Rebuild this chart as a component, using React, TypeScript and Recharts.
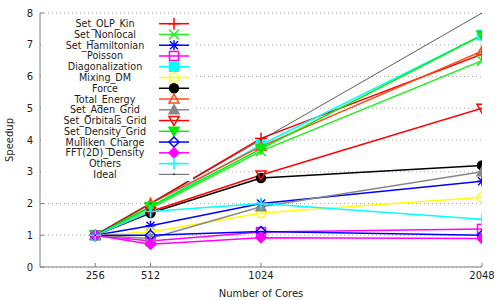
import { LineChart, Line, XAxis, YAxis, CartesianGrid, Legend, Label } from "recharts";

const cores = [256, 512, 1024, 2048];
const speedupTicks = [0, 1, 2, 3, 4, 5, 6, 7, 8];

const setOlpKin = [1, 2.0, 4.05, 6.7];
const setNonlocal = [1, 1.85, 3.65, 6.5];
const setHamiltonian = [1, 1.3, 2.0, 2.7];
const poisson = [1, 0.82, 1.1, 1.2];
const diagonalization = [1, 1.9, 3.85, 7.3];
const mixingDm = [1, 1.1, 1.7, 2.2];
const force = [1, 1.7, 2.8, 3.2];
const totalEnergy = [1, 2.0, 3.8, 6.8];
const setAdenGrid = [1, 0.9, 1.9, 3.0];
const setOrbitalsGrid = [1, 1.75, 2.9, 5.0];
const setDensityGrid = [1, 1.9, 3.72, 7.3];
const mullikenCharge = [1, 1.0, 1.12, 1.0];
const fftDensity = [1, 0.72, 0.92, 0.9];
const others = [1, 1.75, 2.0, 1.5];
const ideal = [1, 2, 4, 8];

type Shape =
  | "plus" | "cross" | "star" | "square" | "squareFill" | "circle" | "circleFill"
  | "tri" | "triFill" | "invTri" | "invTriFill" | "diamond" | "diamondFill" | "dot";

const SERIES: { key: string; values: number[]; color: string; shape: Shape; width: number }[] = [
  { key: "Set_OLP_Kin", values: setOlpKin, color: "#ff0000", shape: "plus", width: 1.5 },
  { key: "Set_Nonlocal", values: setNonlocal, color: "#22ee22", shape: "cross", width: 1.5 },
  { key: "Set_Hamiltonian", values: setHamiltonian, color: "#0000ff", shape: "star", width: 1.5 },
  { key: "Poisson", values: poisson, color: "#ff00ff", shape: "square", width: 1.5 },
  { key: "Diagonalization", values: diagonalization, color: "#00ffff", shape: "squareFill", width: 1.5 },
  { key: "Mixing_DM", values: mixingDm, color: "#ffff00", shape: "circle", width: 1.5 },
  { key: "Force", values: force, color: "#000000", shape: "circleFill", width: 1.5 },
  { key: "Total_Energy", values: totalEnergy, color: "#ff4a1a", shape: "tri", width: 1.5 },
  { key: "Set_Aden_Grid", values: setAdenGrid, color: "#888888", shape: "triFill", width: 1.5 },
  { key: "Set_Orbitals_Grid", values: setOrbitalsGrid, color: "#ff0000", shape: "invTri", width: 1.5 },
  { key: "Set_Density_Grid", values: setDensityGrid, color: "#00ee00", shape: "invTriFill", width: 1.5 },
  { key: "Mulliken_Charge", values: mullikenCharge, color: "#0000ff", shape: "diamond", width: 1.5 },
  { key: "FFT(2D)_Density", values: fftDensity, color: "#ff00ff", shape: "diamondFill", width: 1.5 },
  { key: "Others", values: others, color: "#00ffff", shape: "plus", width: 1.5 },
  { key: "Ideal", values: ideal, color: "#333333", shape: "dot", width: 0.8 },
];

const data = cores.map((c, i) => {
  const row: Record<string, number> = { cores: c };
  SERIES.forEach((s) => (row[s.key] = s.values[i]));
  return row;
});

const FONT = "DejaVu Sans, sans-serif";
const TEXT = "#222";
const AXIS = "#808080";

function Marker({ shape, color, cx, cy }: { shape: Shape; color: string; cx: number; cy: number }) {
  const sw = 1.5;
  const r = 4.5;
  switch (shape) {
    case "plus":
      return (
        <g stroke={color} strokeWidth={sw}>
          <line x1={cx - 6} y1={cy} x2={cx + 6} y2={cy} />
          <line x1={cx} y1={cy - 6} x2={cx} y2={cy + 6} />
        </g>
      );
    case "cross":
      return (
        <g stroke={color} strokeWidth={sw}>
          <line x1={cx - 5} y1={cy - 5} x2={cx + 5} y2={cy + 5} />
          <line x1={cx - 5} y1={cy + 5} x2={cx + 5} y2={cy - 5} />
        </g>
      );
    case "star":
      return (
        <g stroke={color} strokeWidth={sw}>
          <line x1={cx - 5} y1={cy} x2={cx + 5} y2={cy} />
          <line x1={cx} y1={cy - 5} x2={cx} y2={cy + 5} />
          <line x1={cx - 4} y1={cy - 4} x2={cx + 4} y2={cy + 4} />
          <line x1={cx - 4} y1={cy + 4} x2={cx + 4} y2={cy - 4} />
        </g>
      );
    case "square":
    case "squareFill":
      return (
        <rect x={cx - r} y={cy - r} width={2 * r} height={2 * r}
          fill={shape === "squareFill" ? color : "none"} stroke={color} strokeWidth={sw} />
      );
    case "circle":
    case "circleFill":
      return <circle cx={cx} cy={cy} r={r} fill={shape === "circleFill" ? color : "none"} stroke={color} strokeWidth={sw} />;
    case "tri":
    case "triFill":
      return (
        <polygon points={`${cx},${cy - 5} ${cx - 5},${cy + 4} ${cx + 5},${cy + 4}`}
          fill={shape === "triFill" ? color : "none"} stroke={color} strokeWidth={sw} />
      );
    case "invTri":
    case "invTriFill":
      return (
        <polygon points={`${cx},${cy + 5} ${cx - 5},${cy - 4} ${cx + 5},${cy - 4}`}
          fill={shape === "invTriFill" ? color : "none"} stroke={color} strokeWidth={sw} />
      );
    case "diamond":
    case "diamondFill":
      return (
        <polygon points={`${cx},${cy - 5} ${cx + 5},${cy} ${cx},${cy + 5} ${cx - 5},${cy}`}
          fill={shape === "diamondFill" ? color : "none"} stroke={color} strokeWidth={sw} />
      );
    default:
      return <circle cx={cx} cy={cy} r={1} fill={color} />;
  }
}

// gnuplot-style key: labels, sample line + point to the right, opaque box
function KeyBox() {
  const rowH = 10.76;
  return (
    <div style={{ background: "#fff", width: 152, height: 167 }}>
      <svg width={152} height={167}>
        {SERIES.map((s, i) => {
          const y = 9.7 + i * rowH;
          return (
            <g key={s.key}>
              <text x={64} y={y} textAnchor="middle" dominantBaseline="central"
                fontSize={9.6} fontFamily={FONT} fill={TEXT}>{s.key}</text>
              <line x1={118} y1={y} x2={148} y2={y} stroke={s.color} strokeWidth={s.width} />
              <Marker shape={s.shape} color={s.color} cx={133} cy={y} />
            </g>
          );
        })}
      </svg>
    </div>
  );
}

export default function App() {
  return (
    <div style={{ position: "absolute", left: 0, top: 0, fontFamily: FONT }}>
      <LineChart width={500} height={300} data={data}
        margin={{ top: 13, right: 18, left: 0, bottom: 0 }}>
        <CartesianGrid horizontal vertical={false} stroke="#aaaaaa" strokeDasharray="1 3" />
        <XAxis dataKey="cores" type="number" domain={[0, 2048]} ticks={cores}
          allowDataOverflow height={33} stroke={AXIS} tickSize={-4} tickMargin={9}
          tick={{ fontSize: 10, fill: TEXT, fontFamily: FONT }}>
          <Label value="Number of Cores" position="insideBottom" offset={3}
            style={{ fontSize: 10, fill: TEXT, fontFamily: FONT }} />
        </XAxis>
        <XAxis xAxisId="top" orientation="top" type="number" domain={[0, 2048]} ticks={cores}
          allowDataOverflow height={0} stroke={AXIS} tickSize={-4} tick={false} />
        <YAxis type="number" domain={[0, 8]} ticks={speedupTicks} allowDataOverflow
          width={40} stroke={AXIS} tickSize={-4} tickMargin={11}
          tick={{ fontSize: 10, fill: TEXT, fontFamily: FONT }}>
          <Label value="Speedup" angle={-90} position="insideLeft" offset={9}
            style={{ fontSize: 10, fill: TEXT, fontFamily: FONT, textAnchor: "middle" }} />
        </YAxis>
        <YAxis yAxisId="right" orientation="right" type="number" domain={[0, 8]} ticks={speedupTicks}
          allowDataOverflow width={0} stroke={AXIS} tickSize={-4} tick={false} />
        <Legend layout="vertical" align="center" verticalAlign="middle"
          content={KeyBox}
          wrapperStyle={{ left: 41, top: 14, width: 152, height: 167 }} />
        {SERIES.map((s) => (
          <Line key={s.key} dataKey={s.key} name={s.key} stroke={s.color} strokeWidth={s.width}
            isAnimationActive={false} activeDot={false}
            dot={(p: any) => (
              <g key={`${s.key}-${p.index}`}>
                <Marker shape={s.shape} color={s.color} cx={p.cx} cy={p.cy} />
              </g>
            )} />
        ))}
      </LineChart>
    </div>
  );
}
